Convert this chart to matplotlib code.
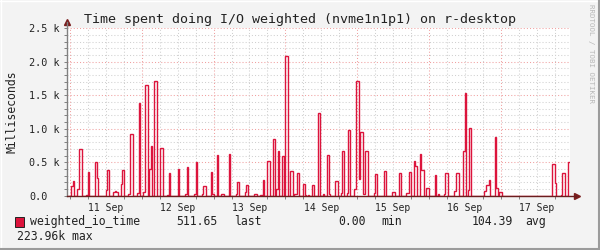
import numpy as np
import matplotlib
matplotlib.use("Agg")
import matplotlib.pyplot as plt
from matplotlib.patches import Rectangle
from matplotlib.lines import Line2D

# hours since 11 Sep 00:00, 30 minute samples (everything else is 0)
event_hours = [0.5, 1.0, 2.5, 3.0, 3.5, 5.5, 6.0, 8.5, 9.0, 12.0, 12.5,
               14.5, 15.0, 15.5, 17.0, 17.5, 19.5, 20.0, 20.5, 22.5, 23.0,
               24.5, 25.0, 25.5, 26.5, 27.0, 28.0, 28.5, 30.0, 30.5, 32.5, 33.0,
               36.0, 38.5, 39.0, 41.5, 42.0, 44.0, 44.5, 45.0, 47.0, 47.5,
               49.0, 50.5, 51.0, 53.0, 55.5, 56.0, 58.5, 59.0, 61.5, 62.0,
               63.5, 64.0, 64.5, 66.0, 66.5, 68.0, 69.0, 69.5, 71.0, 72.0, 72.5,
               73.5, 74.0, 75.0, 75.5, 76.0, 78.0, 78.5, 79.5, 81.0, 83.0,
               84.5, 86.0, 86.5, 88.5, 89.0, 90.5, 91.0, 92.5, 93.0,
               95.0, 95.5, 96.0, 96.5, 97.0, 97.5, 98.0, 98.5, 99.0,
               101.5, 102.0, 105.0, 107.5, 108.0, 110.0, 112.5, 113.0, 113.5,
               115.0, 115.5, 117.0, 117.5, 118.0, 119.0, 119.5, 122.0, 123.0,
               125.0, 125.5, 126.0, 128.5, 129.0, 129.5, 131.5, 132.0,
               133.0, 133.5, 138.5, 139.0, 139.5, 140.0, 142.0, 142.5,
               143.5, 144.0, 161.0, 161.5, 162.0, 164.0, 164.5, 165.0, 166.5]
event_values = [150, 216, 97, 694, 694, 12, 355, 505, 266, 87, 385,
                60, 70, 60, 172, 385, 30, 923, 923, 40, 1390,
                52, 1654, 1654, 400, 744, 1714, 1714, 714, 714, 12, 340,
                400, 30, 430, 27, 510, 27, 146, 146, 355, 20,
                609, 30, 30, 624, 30, 200, 50, 160, 30, 30,
                15, 15, 235, 515, 515, 848, 100, 668, 594, 2087, 2087,
                365, 365, 30, 30, 340, 176, 15, 15, 166, 1235,
                20, 609, 20, 216, 216, 40, 668, 40, 982,
                100, 1709, 1709, 250, 952, 952, 20, 668, 668,
                45, 325, 370, 50, 50, 340, 40, 40, 355,
                520, 445, 624, 385, 385, 116, 116, 310, 20,
                20, 336, 336, 72, 336, 336, 669, 1539,
                87, 1012, 70, 160, 160, 240, 882, 116,
                50, 50, 470, 470, 187, 15, 336, 336, 511.65]

day_labels = ["11 Sep", "12 Sep", "13 Sep", "14 Sep", "15 Sep", "16 Sep", "17 Sep"]
y_labels = ["0.0", "0.5 k", "1.0 k", "1.5 k", "2.0 k", "2.5 k"]

edges = np.arange(-1.0, 167.01, 0.5)
vals = np.zeros(len(edges) - 1)
for h, v in zip(event_hours, event_values):
    vals[int(round((h + 1.0) / 0.5))] = v

mono = "DejaVu Sans Mono"
red = "#DC143C"
W, H = 600, 250

fig = plt.figure(figsize=(6, 2.5), dpi=100, facecolor="#F3F3F3")
ax = fig.add_axes([66.7 / W, 1 - 195.8 / H, (569.5 - 66.7) / W, (195.8 - 28.3) / H])
ax.set_facecolor("white")
ax.set_xlim(-1.1, 167.0)
ax.set_ylim(0, 2500)

# grid
for y in np.arange(100, 2501, 100):
    c = "#F0A0A0" if y % 500 == 0 else "#D0D0D0"
    ax.axhline(y, color=c, lw=0.75, ls=(0, (1, 2)), zorder=0)
for x in np.arange(0, 167, 6):
    c = "#F0A0A0" if x % 24 == 0 else "#D0D0D0"
    ax.axvline(x, color=c, lw=0.75, ls=(0, (1, 2)), zorder=0)

ax.stairs(vals, edges, color=red, lw=1.0, baseline=None, zorder=3)

for s in ax.spines.values():
    s.set_visible(False)
ax.plot([0, 0], [0, 1.035], transform=ax.transAxes, color="#808080", lw=1, clip_on=False, zorder=4)
ax.plot([0, 1.012], [0, 0], transform=ax.transAxes, color="#6A1E1E", lw=1, clip_on=False, zorder=4)
ax.plot([0], [1.04], marker="^", ms=4, color="#7A1E1E", transform=ax.transAxes, clip_on=False)
ax.plot([1.015], [0], marker=">", ms=4, color="#7A1E1E", transform=ax.transAxes, clip_on=False)

ax.set_xticks(np.arange(12, 167, 24), day_labels)
ax.set_xticks(np.arange(0, 167, 6), minor=True)
ax.set_yticks(np.arange(0, 2501, 500), y_labels)
ax.set_yticks(np.arange(0, 2501, 100), minor=True)
ax.tick_params(axis="x", which="major", length=0, pad=5, labelsize=7, labelcolor="#222222")
ax.tick_params(axis="y", which="major", length=2, direction="out", width=0.7,
               color="#808080", pad=24.9, labelsize=7.3, labelcolor="#222222")
ax.tick_params(which="minor", length=2, direction="out", width=0.7, color="#808080")
for lab in ax.get_xticklabels() + ax.get_yticklabels():
    lab.set_fontfamily(mono)
for lab in ax.get_yticklabels():
    lab.set_ha("left")

fig.text(0.5, 1 - 19 / H, "Time spent doing I/O weighted (nvme1n1p1) on r-desktop",
         ha="center", va="center", fontsize=9.6, family=mono, color="#222222")
fig.text(12 / W, 1 - 112 / H, "Milliseconds", rotation=90, ha="center", va="center",
         fontsize=8.3, family=mono, color="#222222")
fig.text(591 / W, 1 - 4 / H, "RRDTOOL / TOBI OETIKER", rotation=270, ha="center", va="top",
         fontsize=5.4, family=mono, color="#B8B8B8")

# legend
fig.patches.append(Rectangle((15 / W, 1 - 226.5 / H), 9 / W, 10 / H, transform=fig.transFigure,
                             facecolor=red, edgecolor="#222222", lw=0.7))
legend_row = [(30, "weighted_io_time"), (176.7, "511.65"), (234, "last"),
              (338, "0.00"), (381, "min"), (472, "104.39"), (525, "avg")]
for x, s in legend_row:
    fig.text(x / W, 1 - 221.5 / H, s, ha="left", va="center", fontsize=8.3, family=mono, color="#222222")
fig.text(16.7 / W, 1 - 236 / H, "223.96k max", ha="left", va="center", fontsize=8.3,
         family=mono, color="#222222")

# frame
fig.lines.append(Line2D([0, 1], [1 - 0.5 / H, 1 - 0.5 / H], transform=fig.transFigure, color="white", lw=1))
fig.lines.append(Line2D([0.5 / W, 0.5 / W], [0, 1], transform=fig.transFigure, color="white", lw=1))
fig.lines.append(Line2D([0, 1], [1 / H, 1 / H], transform=fig.transFigure, color="#9B9B9B", lw=1.5))
fig.lines.append(Line2D([1 - 1 / W, 1 - 1 / W], [0, 1], transform=fig.transFigure, color="#9B9B9B", lw=1.5))

fig.savefig("out.png", dpi=100, facecolor=fig.get_facecolor())
